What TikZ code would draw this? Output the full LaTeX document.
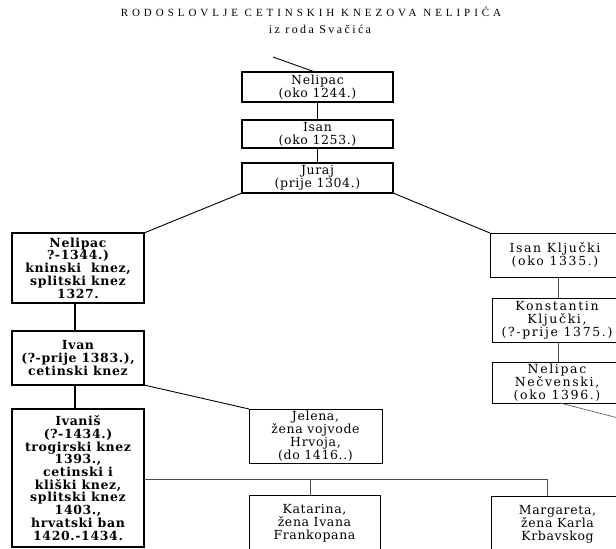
\documentclass[tikz,border=0pt]{standalone}
\usepackage{fontspec}
\setmainfont{DejaVu Serif}
\newfontfamily\titlefont[LetterSpace=36]{Liberation Serif}
\newfontfamily\subfont[LetterSpace=20]{Liberation Serif}
\newfontfamily\boxfont[LetterSpace=5]{DejaVu Serif}
\newfontfamily\rightfont[LetterSpace=13]{DejaVu Serif}
\begin{document}
\begin{tikzpicture}[x=1pt,y=-1pt,
  box/.style={draw, line width=1.1pt, align=center, inner sep=0pt, outer sep=0pt,
    font=\boxfont\fontsize{12.5}{12.9}\selectfont},
  bbox/.style={box, font=\boxfont\bfseries\fontsize{12.5}{12.7}\selectfont},
  rbox/.style={box, line width=0.8pt, font=\rightfont\fontsize{12.5}{13}\selectfont},
  link/.style={line width=0.9pt},
  thin/.style={line width=0.6pt, black!70}]
\useasboundingbox (0,0) rectangle (616,549);
\clip (0,0) rectangle (616,549);
\fill[white] (0,0) rectangle (616,549);

\node[anchor=base, font=\titlefont\fontsize{11}{12}\selectfont] (title) at (311,16) {RODOSLOVLJE CETINSKIH KNEZOVA NELIPIĆA};
\node[anchor=base, font=\subfont\fontsize{12}{13}\selectfont] (sub) at (320,33) {iz roda Svačića};

\node[box, minimum width=151pt, minimum height=30pt] (nel1) at (317.5,87) {Nelipac\\(oko 1244.)};
\node[box, minimum width=151pt, minimum height=28pt] (isan) at (317.5,134) {Isan\\(oko 1253.)};
\node[box, minimum width=151pt, minimum height=30pt] (juraj) at (317.5,178) {Juraj\\(prije 1304.)};

\node[bbox, minimum width=132pt, minimum height=70pt] (nel2) at (78,268) {Nelipac\\?-1344.)\\kninski\ \ knez,\\splitski knez\\1327.};
\node[bbox, minimum width=132pt, minimum height=54pt] (ivan) at (78,358) {Ivan\\(?-prije 1383.),\\cetinski knez};
\node[bbox, line width=2pt, minimum width=132pt, minimum height=138pt] (ivanis) at (78,478) {Ivaniš\\(?-1434.)\\trogirski knez\\1393.,\\cetinski i\\kliški knez,\\splitski knez\\1403.,\\hrvatski ban\\1420.-1434.};

\node[box, line width=0.8pt, minimum width=133pt, minimum height=54pt] (jelena) at (315.5,436) {Jelena,\\žena vojvode\\Hrvoja,\\(do 1416..)};
\node[box, line width=0.8pt, minimum width=131pt, minimum height=56pt] (katarina) at (314.5,523) {Katarina,\\žena Ivana\\Frankopana};
\node[box, line width=0.8pt, minimum width=133pt, minimum height=56pt] (margareta) at (557.5,524) {Margareta,\\žena Karla\\Krbavskog};

\node[rbox, minimum width=130pt, minimum height=44pt] (isank) at (555,255) {Isan Ključki\\(oko 1335.)};
\node[rbox, minimum width=130pt, minimum height=44pt] (konst) at (557,320) {Konstantin\\Ključki,\\(?-prije 1375.)};
\node[rbox, minimum width=130pt, minimum height=41pt] (nelnec) at (557,382.5) {Nelipac\\Nečvenski,\\(oko 1396.)};

\coordinate (top) at (273,57);
\coordinate (nel1in) at (315,72);
\coordinate (necout) at (630,421);
\coordinate (necin) at (560,403);
\coordinate (hleft) at (144,479);
\coordinate (hkat) at (310,479);
\coordinate (hmarg) at (547,479);

\draw[link] (top) -- (nel1in);
\draw[link] (nel1.south) -- (isan.north);
\draw[link] (isan.south) -- (juraj.north);
\draw[link] (juraj.south west) -- (nel2.north east);
\draw[link] (juraj.south east) -- (isank.north west);
\draw[thin] (isank.south -| 558,0) -- (konst.north -| 558,0);
\draw[thin] (konst.south -| 558,0) -- (nelnec.north -| 558,0);
\draw[thin] (necin) -- (necout);
\draw[line width=1.2pt] (nel2.south -| 75,0) -- (ivan.north -| 75,0);
\draw[line width=1.2pt] (ivan.south -| 75,0) -- (ivanis.north -| 75,0);
\draw[link] (ivan.south east) -- (jelena.north west);
\draw[thin] (hleft) -- (hmarg) -- (margareta.north -| hmarg);
\draw[thin] (hkat) -- (katarina.north -| hkat);
\end{tikzpicture}
\end{document}
